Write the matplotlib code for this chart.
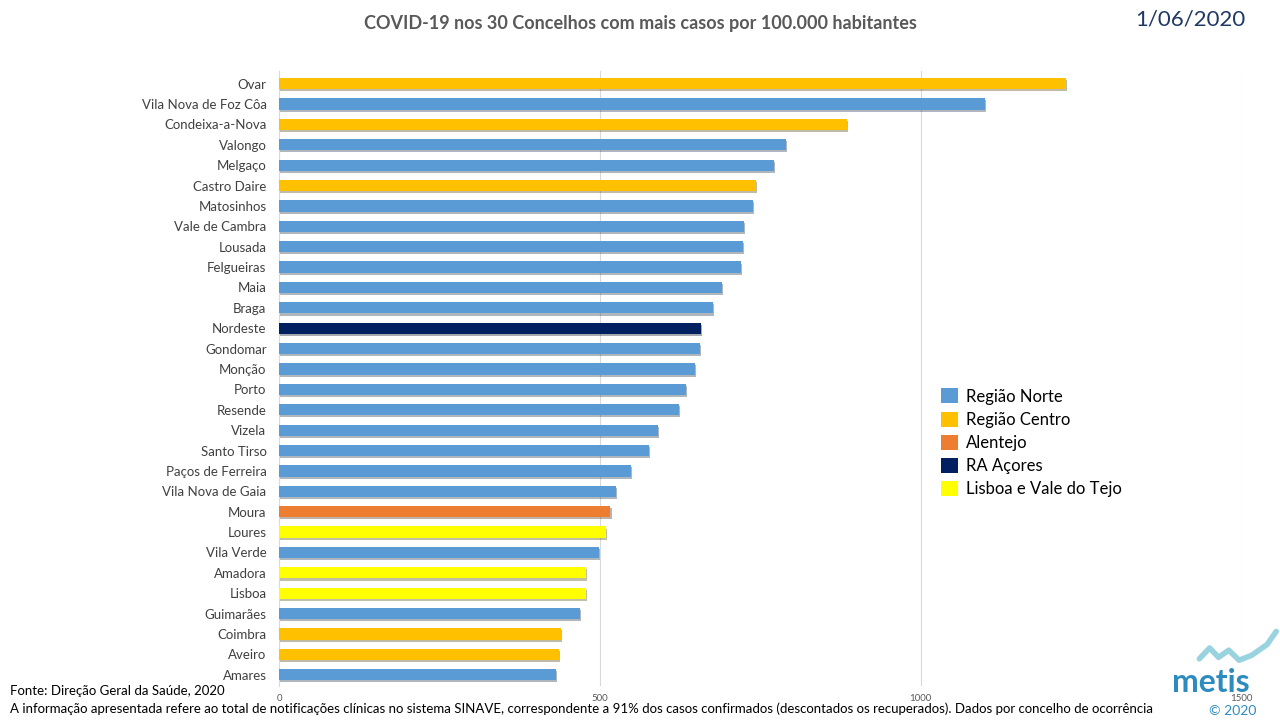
import matplotlib.pyplot as plt
import matplotlib.patheffects as pe
from matplotlib.patches import Patch
from matplotlib.lines import Line2D

# concelhos (top to bottom) and cases per 100.000 inhabitants
concelhos = ['Ovar', 'Vila Nova de Foz Côa', 'Condeixa-a-Nova', 'Valongo', 'Melgaço',
             'Castro Daire', 'Matosinhos', 'Vale de Cambra', 'Lousada', 'Felgueiras',
             'Maia', 'Braga', 'Nordeste', 'Gondomar', 'Monção', 'Porto', 'Resende',
             'Vizela', 'Santo Tirso', 'Paços de Ferreira', 'Vila Nova de Gaia', 'Moura',
             'Loures', 'Vila Verde', 'Amadora', 'Lisboa', 'Guimarães', 'Coimbra',
             'Aveiro', 'Amares']
casos = [1226, 1100, 885, 790, 771, 743, 738, 724, 723, 720,
         690, 676, 657, 656, 648, 634, 623, 590, 576, 548,
         525, 516, 509, 498, 478, 478, 469, 439, 436, 431]
regiao = ['Centro', 'Norte', 'Centro', 'Norte', 'Norte', 'Centro', 'Norte', 'Norte',
          'Norte', 'Norte', 'Norte', 'Norte', 'Acores', 'Norte', 'Norte', 'Norte',
          'Norte', 'Norte', 'Norte', 'Norte', 'Norte', 'Alentejo', 'Lisboa', 'Norte',
          'Lisboa', 'Lisboa', 'Norte', 'Centro', 'Centro', 'Norte']

cores = {'Norte': '#5B9BD5', 'Centro': '#FFC000', 'Alentejo': '#ED7D31',
         'Acores': '#002060', 'Lisboa': '#FFFF00'}
legenda = [('Norte', 'Região Norte'), ('Centro', 'Região Centro'),
           ('Alentejo', 'Alentejo'), ('Acores', 'RA Açores'),
           ('Lisboa', 'Lisboa e Vale do Tejo')]

plt.rcParams['font.family'] = ['Lato', 'DejaVu Sans']

fig = plt.figure(figsize=(12.8, 7.2), dpi=100)
ax = fig.add_axes([0.218, 0.047, 0.752, 0.855])

y = list(range(len(concelhos)))
bars = ax.barh(y, casos, height=0.55, color=[cores[r] for r in regiao], zorder=3)
for b in bars:
    b.set_path_effects([pe.SimplePatchShadow(offset=(1, -1.5), alpha=0.35), pe.Normal()])

ax.set_xlim(0, 1500)
ax.set_ylim(29.56, -0.64)
ax.set_yticks(y)
ax.set_yticklabels(concelhos, fontsize=9.5, color='#404040')
ax.set_xticks([0, 500, 1000, 1500])
ax.tick_params(axis='x', labelsize=7, colors='#595959', length=0, pad=6)
ax.tick_params(axis='y', length=0, pad=9)
ax.grid(axis='x', color='#D9D9D9', linewidth=0.8, zorder=0)
for s in ['top', 'right', 'bottom']:
    ax.spines[s].set_visible(False)
ax.spines['left'].set_color('#D9D9D9')

handles = [Patch(facecolor=cores[k], edgecolor='none') for k, _ in legenda]
ax.legend(handles, [t for _, t in legenda], loc='upper left', bbox_to_anchor=(0.672, 0.508),
          frameon=False, fontsize=12, handlelength=1.0, handleheight=1.0,
          handletextpad=0.5, labelspacing=0.42)

fig.text(0.5, 0.968, 'COVID-19 nos 30 Concelhos com mais casos por 100.000 habitantes',
         ha='center', va='center', fontsize=13, fontweight='bold', color='#595959')
fig.text(0.93, 0.973, '1/06/2020', ha='center', va='center', fontsize=16, color='#1F3864')

fig.text(0.008, 0.040, 'Fonte: Direção Geral da Saúde, 2020', ha='left', va='center',
         fontsize=9.5, color='black')
fig.text(0.008, 0.015, 'A informação apresentada refere ao total de notificações clínicas no sistema '
         'SINAVE, correspondente a 91% dos casos confirmados (descontados os recuperados). '
         'Dados por concelho de ocorrência', ha='left', va='center', fontsize=9.5, color='black')

# metis logo
fig.text(0.946, 0.052, 'metis', ha='center', va='center', fontsize=23, fontweight='bold',
         color='#2E8BC0')
fig.text(0.963, 0.012, '© 2020', ha='center', va='center', fontsize=10, color='#2E8BC0')
fig.add_artist(Line2D([0.937, 0.945, 0.952, 0.960, 0.968, 0.978, 0.990, 0.997],
                      [0.085, 0.100, 0.087, 0.097, 0.083, 0.090, 0.105, 0.123],
                      color='#7EC8D8', linewidth=4, alpha=0.8, solid_capstyle='round'))

fig.savefig('out.png', dpi=100)
